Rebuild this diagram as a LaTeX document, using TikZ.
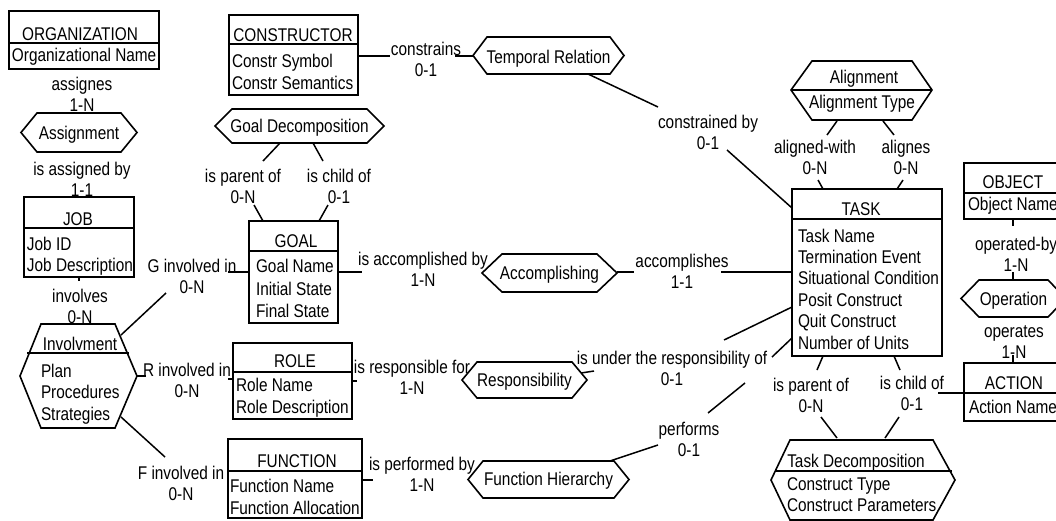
\documentclass[tikz,border=0pt]{standalone}
\usepackage{fontspec}
\setmainfont{Liberation Sans}[FakeStretch=0.835]
\begin{document}
\fontsize{18.4}{21}\selectfont
\begin{tikzpicture}[x=1pt,y=-1pt,
  every node/.style={inner sep=0pt, outer sep=0pt},
  ebox/.style={draw, line width=2.9pt, rectangle, inner sep=0pt},
  divider/.style={line width=2.4pt},
  link/.style={line width=1.5pt},
  hexline/.style={line width=1.6pt, line join=miter},
  ttl/.style={anchor=base},
  attr/.style={anchor=base west},
  lbl/.style={align=center},
]
\useasboundingbox (0,0) rectangle (1056,520);
\clip (0,0) rectangle (1056,520);
\fill[white] (0,0) rectangle (1056,520);

% entity box: name, left, top, right, bottom, divider y
\newcommand{\entity}[6]{%
  \node[ebox, minimum width={#4-#2}, minimum height={#5-#3}] (#1) at ({(#2+#4)/2},{(#3+#5)/2}) {};
  \draw[divider] (#2,#6) -- (#4,#6);
}
% relationship hexagon: name, left tip x, inset, right tip x, top y, bottom y, text, baseline y
\newcommand{\relhex}[8]{%
  \draw[hexline] (#2,{(#5+#6)/2}) -- ({#2+#3},#5) -- ({#4-#3},#5) -- (#4,{(#5+#6)/2})
     -- ({#4-#3},#6) -- ({#2+#3},#6) -- cycle;
  \node[anchor=base] (#1) at ({(#2+#4)/2},#8) {#7};
}

% ---------- entities ----------
\entity{org}{9}{11}{159}{69}{43}
\node[ttl] (org-t) at (80,40) {ORGANIZATION};
\node[attr] (org-a1) at (12,61) {Organizational Name};

\entity{constr}{229}{15}{358}{95}{44}
\node[ttl] (constr-t) at (293,41) {CONSTRUCTOR};
\node[attr] (constr-a1) at (232,67) {Constr Symbol};
\node[attr] (constr-a2) at (232,89) {Constr Semantics};

\entity{job}{24}{197}{134}{277}{228}
\node[ttl] (job-t) at (78,225) {JOB};
\node[attr] (job-a1) at (27,250) {Job ID};
\node[attr] (job-a2) at (27,271) {Job Description};

\entity{goal}{249}{221}{338}{323}{251}
\node[ttl] (goal-t) at (296,247) {GOAL};
\node[attr] (goal-a1) at (256,272) {Goal Name};
\node[attr] (goal-a2) at (256,295) {Initial State};
\node[attr] (goal-a3) at (256,317) {Final State};

\entity{role}{233}{343}{352}{419}{372}
\node[ttl] (role-t) at (295,367) {ROLE};
\node[attr] (role-a1) at (236,391) {Role Name};
\node[attr] (role-a2) at (236,413) {Role Description};

\entity{func}{228}{439}{362}{518}{471}
\node[ttl] (func-t) at (297,467) {FUNCTION};
\node[attr] (func-a1) at (230,492) {Function Name};
\node[attr] (func-a2) at (230,514) {Function Allocation};

\entity{task}{792}{189}{942}{356}{219}
\node[ttl] (task-t) at (861,215) {TASK};
\foreach \t [count=\i] in {Task Name, Termination Event, Situational Condition,
    Posit Construct, Quit Construct, Number of Units}
  \node[attr] (task-a\i) at (798,{242+(\i-1)*21.4}) {\t};

\entity{obj}{964}{163}{1062}{219}{193}
\node[ttl] (obj-t) at (1013,188) {OBJECT};
\node[attr] (obj-a1) at (968,210) {Object Name};

\entity{act}{964}{363}{1062}{421}{393}
\node[ttl] (act-t) at (1014,389) {ACTION};
\node[attr] (act-a1) at (969,413) {Action Name};

% ---------- relationships ----------
\relhex{assign}{21}{16}{137}{113}{152}{Assignment}{139}
\relhex{goaldec}{215}{17}{384}{109}{143}{Goal Decomposition}{132}
\relhex{temporal}{473}{14}{624}{37}{74}{Temporal Relation}{63}
\relhex{accomp}{482}{20}{617}{254}{292}{Accomplishing}{279}
\relhex{resp}{462}{15}{587}{362}{398}{Responsibility}{386}
\relhex{funch}{468}{15}{629}{461}{498}{Function Hierarchy}{485}
\relhex{oper}{961}{18}{1066}{280}{317}{Operation}{305}

% Alignment (relationship with attribute)
\draw[hexline] (791,90) -- (812,61) -- (912,61) -- (932,90) -- (912,120) -- (812,120) -- cycle;
\draw[hexline] (791,90) -- (932,90);
\node[ttl] (align-t) at (864,83) {Alignment};
\node[ttl] (align-a1) at (862,108) {Alignment Type};

% Involvment
\draw[hexline] (20,376) -- (41,324) -- (115,324) -- (137,376) -- (115,428) -- (41,428) -- cycle;
\draw[line width=2pt] (27,353) -- (129,353);
\node[ttl] (inv-t) at (80,350) {Involvment};
\node[attr] (inv-a1) at (41,377) {Plan};
\node[attr] (inv-a2) at (41,398.5) {Procedures};
\node[attr] (inv-a3) at (41,420) {Strategies};

% Task Decomposition
\draw[hexline] (771,480) -- (790,440) -- (933,440) -- (955,480) -- (933,520) -- (790,520) -- cycle;
\draw[line width=2pt] (775,471) -- (952,471);
\node[ttl] (tdec-t) at (856,467) {Task Decomposition};
\node[attr] (tdec-a1) at (787,490) {Construct Type};
\node[attr] (tdec-a2) at (787,511) {Construct Parameters};

% ---------- role labels ----------
\node[lbl] (l-assignes) at (82,94) {assignes\\1-N};
\node[lbl] (l-assignedby) at (82,179.5) {is assigned by\\1-1};
\node[lbl] (l-involves) at (80,306) {involves\\0-N};
\node[lbl] (l-gin) at (192,276) {G involved in\\0-N};
\node[lbl] (l-rin) at (187,380) {R involved in\\0-N};
\node[lbl] (l-fin) at (181,483.5) {F involved in\\0-N};
\node[lbl] (l-gparent) at (243,186) {is parent of\\0-N};
\node[lbl] (l-gchild) at (339,186) {is child of\\0-1};
\node[lbl] (l-constrains) at (426,59) {constrains\\0-1};
\node[lbl] (l-constrained) at (708,132.5) {constrained by\\0-1};
\node[lbl] (l-alwith) at (815,157) {aligned-with\\0-N};
\node[lbl] (l-alignes) at (906,157) {alignes\\0-N};
\node[lbl] (l-accby) at (423,269.5) {is accomplished by\\1-N};
\node[lbl] (l-accs) at (682,271.5) {accomplishes\\1-1};
\node[lbl] (l-respfor) at (412,377) {is responsible for\\1-N};
\node[lbl] (l-resp) at (672,368) {is under the responsibility of\\0-1};
\node[lbl] (l-performs) at (689,439.5) {performs\\0-1};
\node[lbl] (l-perfby) at (422,474) {is performed by\\1-N};
\node[lbl] (l-opby) at (1016,254.5) {operated-by\\1-N};
\node[lbl] (l-ops) at (1014,342.5) {operates\\1-N};
\node[lbl] (l-tparent) at (811,395) {is parent of\\0-N};
\node[lbl] (l-tchild) at (912,393.5) {is child of\\0-1};

% ---------- connectors ----------
% Involvment
\draw[link] (121,335) -- (166,293);
\draw[link] (228,272) -- (goal.west);
\draw[link] (137,376) -- (146,376);
\draw[link] (228,379) -- (role.west |- 0,379);
\draw[link] (121,417) -- (165,457);
\draw[link] (job.south) -- ++(0,4);
% Goal Decomposition
\draw[link] (280,143) -- (263,161);
\draw[link] (254,205) -- (263,0 |- goal.north);
\draw[link] (313,143) -- (323,161);
\draw[link] (328,205) -- (319,0 |- goal.north);
% Accomplishing
\draw[link] (goal.east) -- (362,272);
\draw[link] (617,272) -- (634,272);
\draw[link] (721,272) -- (task.west |- 0,272);
% Temporal Relation
\draw[link] (constr.east |- 0,56) -- (390,56);
\draw[link] (455,56) -- (473,56);
\draw[link] (588,74) -- (658,107);
\draw[link] (727,150) -- (task.west |- 0,208);
% Alignment
\draw[link] (837,121) -- (827,135);
\draw[link] (818,180) -- (823,0 |- task.north);
\draw[link] (883,121) -- (894,135);
\draw[link] (903,180) -- (897,0 |- task.north);
% Responsibility
\draw[link] (role.east |- 0,381) -- (357,381);
\draw[link] (581,373) -- (594,371);
\draw[link] (task.west |- 0,307) -- (724,340);
% Function Hierarchy
\draw[link] (task.west |- 0,338) -- (772,357);
\draw[link] (745,383) -- (708,413);
\draw[link] (658,445) -- (610,461);
\draw[link] (func.east |- 0,480) -- (373,480);
% Operation
\draw[link] (obj.south) -- (1013,226);
\draw[link] (1013,272) -- (1013,280);
\draw[link] (1013,355) -- (act.north);
\draw[link] (act.west |- 0,393) -- (938,393);
% Task Decomposition
\draw[link] (823,0 |- task.south) -- (817,370);
\draw[link] (821,417) -- (837,438);
\draw[link] (894,0 |- task.south) -- (900,370);
\draw[link] (899,417) -- (885,438);
\end{tikzpicture}
\end{document}
